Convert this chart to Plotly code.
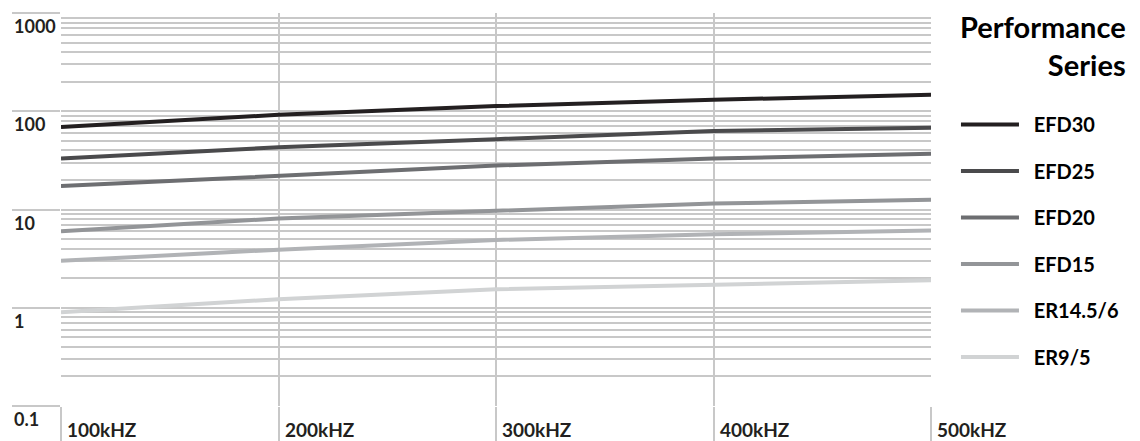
import math
import plotly.graph_objects as go

freq_khz = [100, 200, 300, 400, 500]
freq_labels = ["100kHZ", "200kHZ", "300kHZ", "400kHZ", "500kHZ"]

series_names = ["EFD30", "EFD25", "EFD20", "EFD15", "ER14.5/6", "ER9/5"]
efd30 = [69, 92, 113, 131, 147]
efd25 = [33, 43, 52, 63, 68]
efd20 = [17.3, 22, 28, 33, 37]
efd15 = [6.0, 8.1, 9.7, 11.5, 12.6]
er14_5_6 = [3.0, 3.9, 4.9, 5.6, 6.1]
er9_5 = [0.9, 1.22, 1.54, 1.72, 1.9]
series_values = [efd30, efd25, efd20, efd15, er14_5_6, er9_5]
series_colors = ["#231f20", "#4a4a4c", "#6d6e71", "#939598", "#b1b3b6", "#d1d3d4"]

y_ticks = [0.1, 1, 10, 100, 1000]
y_tick_labels = ["0.1", "1", "10", "100", "1000"]

legend_title = "Performance<br>Series"

FONT = "Lato"
TXT = "#231f20"
GRID = "#c8c8c8"
NB = "\u00a0\u00a0"

fig = go.Figure()
for i, (name, vals, col) in enumerate(zip(series_names, series_values, series_colors)):
    fig.add_trace(go.Scatter(
        x=freq_khz, y=vals, name=NB + name, mode="lines",
        line=dict(color=col, width=4),
        legendgroup=f"g{i}", hoverinfo="skip",
    ))

annotations = []
for v, t in zip(y_ticks, y_tick_labels):
    annotations.append(dict(
        x=0, xref="paper", xshift=-49, xanchor="left",
        y=math.log10(v), yref="y", yshift=-13, yanchor="middle",
        text=t, showarrow=False,
        font=dict(family=FONT, size=18, color=TXT, weight="bold"),
    ))
for v, t in zip(freq_khz, freq_labels):
    annotations.append(dict(
        x=v, xref="x", xshift=4, xanchor="left",
        y=0, yref="paper", yshift=-23, yanchor="middle",
        text=t, showarrow=False,
        font=dict(family=FONT, size=19, color=TXT, weight="bold"),
    ))
annotations.append(dict(
    x=1.225, xref="paper", xanchor="right", align="right",
    y=1, yref="paper", yanchor="top", yshift=5, borderpad=0,
    text=legend_title, showarrow=False,
    font=dict(family=FONT, size=29, color="#000000", weight="bold"),
))

fig.update_layout(
    width=1140, height=441,
    margin=dict(l=53, r=217, t=5, b=43, autoexpand=False),
    paper_bgcolor="white", plot_bgcolor="white",
    font=dict(family=FONT, color=TXT),
    xaxis=dict(
        range=[100, 500], tickvals=freq_khz, showticklabels=False,
        showgrid=True, gridcolor=GRID, gridwidth=1.5,
        ticks="outside", ticklen=40, tickcolor=GRID, tickwidth=1.5,
        showline=False, zeroline=False, automargin=False,
    ),
    yaxis=dict(
        type="log", range=[-1, 3], tickvals=y_ticks, showticklabels=False,
        showgrid=True, gridcolor=GRID, gridwidth=1.5,
        ticks="outside", ticklen=48, tickcolor=GRID, tickwidth=1.5,
        minor=dict(showgrid=True, gridcolor=GRID, gridwidth=1.5, dtick="D1"),
        showline=False, zeroline=False, automargin=False,
    ),
    showlegend=True,
    legend=dict(
        x=1.0287, xanchor="left", y=0.766, yanchor="top",
        itemwidth=58, tracegroupgap=17.5,
        font=dict(family=FONT, size=20, color="#000000", weight="bold"),
        bgcolor="rgba(0,0,0,0)",
    ),
    annotations=annotations,
)

fig.write_html("out.html")
